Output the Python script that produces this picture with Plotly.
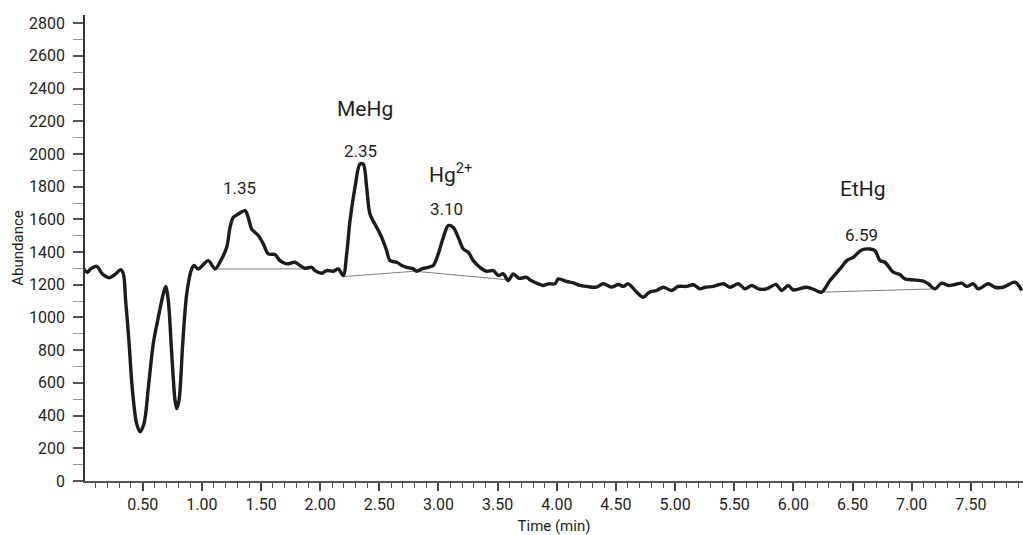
import plotly.graph_objects as go

# Chromatogram trace (time in min, abundance)
time_min = [0.003, 0.031, 0.060, 0.111, 0.158, 0.215, 0.271, 0.314, 0.336, 0.356, 0.384, 0.410,
            0.448, 0.477, 0.511, 0.548, 0.589, 0.632, 0.674, 0.694, 0.716, 0.745, 0.773, 0.787,
            0.807, 0.838, 0.872, 0.914, 0.934, 0.970, 1.054, 1.111, 1.167, 1.210, 1.238, 1.265,
            1.308, 1.364, 1.392, 1.421, 1.477, 1.519, 1.561, 1.618, 1.660, 1.717, 1.787, 1.829,
            1.872, 1.928, 1.956, 2.013, 2.055, 2.111, 2.153, 2.195, 2.224, 2.252, 2.294, 2.336,
            2.364, 2.393, 2.421, 2.478, 2.520, 2.562, 2.590, 2.647, 2.689, 2.731, 2.787, 2.816,
            2.858, 2.914, 2.956, 2.998, 3.041, 3.083, 3.125, 3.167, 3.210, 3.252, 3.294, 3.351,
            3.407, 3.463, 3.505, 3.548, 3.590, 3.632, 3.680, 3.745, 3.773, 3.844, 3.886, 3.928,
            3.985, 4.013, 4.084, 4.140, 4.196, 4.253, 4.337, 4.393, 4.464, 4.520, 4.562, 4.604,
            4.675, 4.731, 4.782, 4.844, 4.900, 4.971, 5.027, 5.098, 5.155, 5.211, 5.253, 5.324,
            5.408, 5.465, 5.535, 5.591, 5.648, 5.704, 5.774, 5.853, 5.901, 5.957, 5.999, 6.112,
            6.182, 6.239, 6.309, 6.394, 6.451, 6.506, 6.577, 6.648, 6.690, 6.732, 6.774, 6.844,
            6.901, 6.943, 7.014, 7.098, 7.140, 7.197, 7.253, 7.310, 7.366, 7.423, 7.465, 7.521,
            7.563, 7.647, 7.704, 7.774, 7.873, 7.930]
abundance = [1297, 1277, 1297, 1313, 1267, 1243, 1267, 1293, 1267, 1100, 850, 580,
             352, 301, 352, 575, 840, 1002, 1145, 1190, 1104, 779, 494, 443,
             494, 840, 1145, 1297, 1318, 1297, 1348, 1297, 1358, 1429, 1551, 1612,
             1633, 1653, 1612, 1541, 1501, 1450, 1389, 1385, 1348, 1328, 1338, 1318,
             1301, 1307, 1287, 1271, 1287, 1283, 1297, 1257, 1389, 1592, 1795, 1938,
             1938, 1795, 1633, 1551, 1490, 1409, 1348, 1338, 1318, 1307, 1297, 1283,
             1297, 1307, 1318, 1389, 1490, 1562, 1551, 1490, 1419, 1399, 1348, 1307,
             1283, 1287, 1257, 1267, 1226, 1267, 1240, 1246, 1230, 1206, 1196, 1206,
             1206, 1236, 1220, 1212, 1196, 1190, 1186, 1206, 1186, 1202, 1190, 1206,
             1155, 1124, 1155, 1165, 1185, 1165, 1190, 1190, 1200, 1175, 1185, 1190,
             1206, 1185, 1206, 1175, 1196, 1175, 1175, 1202, 1165, 1196, 1169, 1185,
             1169, 1155, 1226, 1297, 1348, 1368, 1413, 1419, 1409, 1348, 1338, 1277,
             1263, 1236, 1230, 1222, 1206, 1175, 1210, 1196, 1202, 1210, 1190, 1206,
             1175, 1206, 1185, 1185, 1216, 1165]

# Integration baselines
base1_t = [1.125, 1.870]
base1_a = [1297, 1297]
base2_t = [2.195, 2.800, 3.590]
base2_a = [1250, 1283, 1230]
base3_t = [6.240, 7.200]
base3_a = [1155, 1175]

# Peak labels
peak_t = [1.32, 2.345, 3.07, 6.58]
peak_a = [1793, 2019, 1665, 1507]
peak_txt = ["1.35", "2.35", "3.10", "6.59"]
name_t = [2.38, 3.10, 6.59]
name_a = [2275, 1885, 1787]
name_txt = ["MeHg", "Hg<sup>2+</sup>", "EtHg"]

FONT = "Roboto, Liberation Sans, sans-serif"
fig = go.Figure()
for bt, ba in [(base1_t, base1_a), (base2_t, base2_a), (base3_t, base3_a)]:
    fig.add_trace(go.Scatter(x=bt, y=ba, mode="lines",
                             line=dict(color="#808080", width=1), hoverinfo="skip"))
fig.add_trace(go.Scatter(x=time_min, y=abundance, mode="lines",
                         line=dict(color="#1c1c1c", width=3.4, shape="spline", smoothing=0.9)))

for t, a, s in zip(peak_t, peak_a, peak_txt):
    fig.add_annotation(x=t, y=a, text=s, showarrow=False, xref="x", yref="y",
                       font=dict(family=FONT, size=17, color="#231f20"))
for t, a, s in zip(name_t, name_a, name_txt):
    fig.add_annotation(x=t, y=a, text=s, showarrow=False, xref="x", yref="y",
                       font=dict(family=FONT, size=21, color="#231f20"))

fig.update_layout(
    width=1023, height=535, showlegend=False,
    margin=dict(l=85, r=0, t=15, b=54),
    paper_bgcolor="white", plot_bgcolor="white",
    font=dict(family=FONT, color="#231f20"),
)
fig.update_xaxes(
    range=[0.012, 7.941], showgrid=False, zeroline=False,
    showline=True, linecolor="#555555", linewidth=1.5,
    tick0=0, dtick=0.5, tickformat=".2f", ticks="outside", ticklen=8,
    tickcolor="#444444", tickwidth=1.5,
    tickfont=dict(family=FONT, size=16, color="#231f20"),
    minor=dict(dtick=0.1, ticks="outside", ticklen=5, tickcolor="#555555", tickwidth=1.2),
    title=dict(text="Time (min)", font=dict(family=FONT, size=15, color="#231f20"), standoff=9),
)
fig.update_yaxes(
    range=[0, 2850], showgrid=False, zeroline=False,
    showline=True, linecolor="#333333", linewidth=1.5,
    tick0=0, dtick=200, ticks="outside", ticklen=10,
    tickcolor="#555555", tickwidth=1.5, ticklabelstandoff=5,
    tickfont=dict(family=FONT, size=16, color="#231f20"),
    minor=dict(dtick=100, ticks="outside", ticklen=10, tickcolor="#999999", tickwidth=1.2),
    title=dict(text="Abundance", font=dict(family=FONT, size=15, color="#231f20"), standoff=2),
)
fig.write_html("out.html")
